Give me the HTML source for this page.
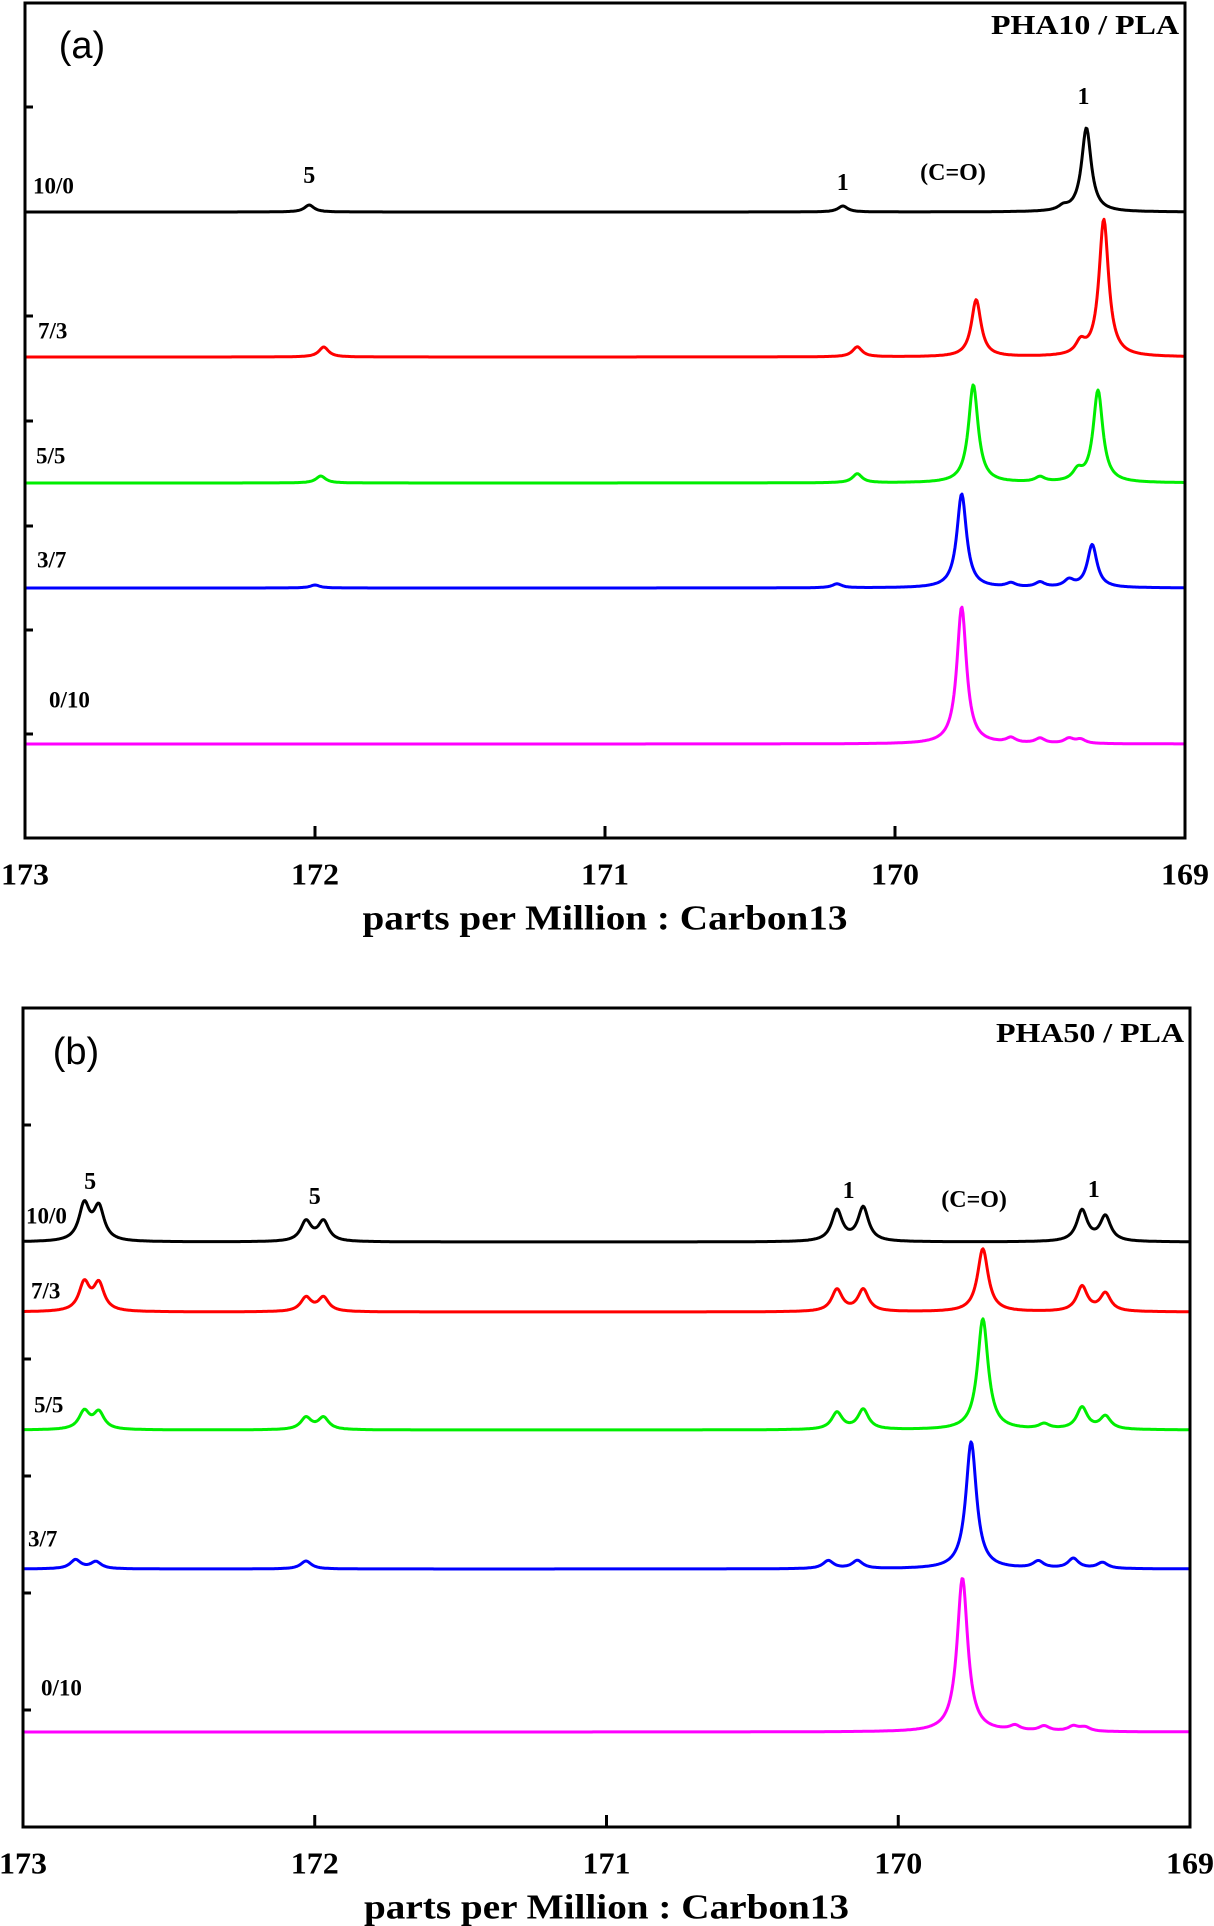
<!DOCTYPE html>
<html><head><meta charset="utf-8"><style>
body{margin:0;background:#fff;}
svg{display:block;}
text{font-family:"Liberation Serif",serif;font-weight:bold;fill:#000;}
.ab{font-family:"Liberation Sans",sans-serif;font-weight:normal;}
</style></head><body>
<svg id="fig" width="1214" height="1926" viewBox="0 0 1214 1926" xmlns="http://www.w3.org/2000/svg"></svg>
<script>
// ---------- data ----------
const xTicks = [173, 172, 171, 170, 169];
const seriesNames = ["10/0", "7/3", "5/5", "3/7", "0/10"];
const seriesColors = ["#000000", "#ff0000", "#00ee00", "#0000ff", "#ff00ff"];
// panel (a) PHA10/PLA : peak positions (ppm) and heights (px)
const aPos0 = [172.02, 170.18, 169.42, 169.34];
const aHt0  = [7, 6, 4, 84];
const aPos1 = [171.97, 170.13, 169.72, 169.36, 169.28];
const aHt1  = [10, 10, 57, 12, 137];
const aPos2 = [171.98, 170.13, 169.73, 169.5, 169.37, 169.30];
const aHt2  = [7, 9, 98, 5, 10, 92];
const aPos3 = [172.0, 170.2, 169.77, 169.6, 169.5, 169.4, 169.32];
const aHt3  = [3, 4, 94, 4, 5, 7, 43];
const aPos4 = [169.77, 169.6, 169.5, 169.4, 169.36];
const aHt4  = [137, 5, 5, 5, 4];
// panel (b) PHA50/PLA
const bPos0 = [172.79, 172.74, 172.03, 171.97, 170.21, 170.12, 169.37, 169.29];
const bHt0  = [36, 33, 20, 20, 31, 34, 31, 25];
const bPos1 = [172.79, 172.74, 172.03, 171.97, 170.21, 170.12, 169.71, 169.37, 169.29];
const bHt1  = [28, 27, 14, 14, 22, 22, 63, 25, 18];
const bPos2 = [172.79, 172.74, 172.03, 171.97, 170.21, 170.12, 169.71, 169.5, 169.37, 169.29];
const bHt2  = [18, 17, 12, 12, 17, 20, 111, 5, 22, 13];
const bPos3 = [172.82, 172.75, 172.03, 170.24, 170.14, 169.75, 169.52, 169.4, 169.3];
const bHt3  = [9, 7, 8, 8, 8, 127, 7, 10, 6];
const bPos4 = [169.78, 169.6, 169.5, 169.4, 169.36];
const bHt4  = [154, 5, 5, 5, 4];

const NS = "http://www.w3.org/2000/svg";
const svg = document.getElementById("fig");
function mk(tag, attrs, parent) {
  const e = document.createElementNS(NS, tag);
  for (const k in attrs) e.setAttribute(k, attrs[k]);
  (parent || svg).appendChild(e);
  return e;
}
function txt(str, x, y, size, anchor, parent, cls, len) {
  const t = mk("text", {x: x, y: y, "font-size": size, "text-anchor": anchor || "start", "dominant-baseline": "central"}, parent);
  if (cls) t.setAttribute("class", cls);
  if (len) { t.setAttribute("textLength", len); t.setAttribute("lengthAdjust", "spacingAndGlyphs"); }
  t.textContent = str;
  return t;
}

function panel(cfg) {
  const g = mk("g", {});
  
  
  const xs = v => cfg.left + (173 - v) / 4 * (cfg.right - cfg.left);
  cfg.series.forEach((s, i) => {
    let d = "";
    for (let px = cfg.left; px <= cfg.right; px += 1) {
      const ppm = 173 - (px - cfg.left) / (cfg.right - cfg.left) * 4;
      let y = 0;
      for (let k = 0; k < s.pos.length; k++) {
        const dx = (ppm - s.pos[k]) / cfg.gamma;
        y += s.ht[k] / (1 + dx * dx);
      }
      d += (px === cfg.left ? "M" : "L") + px.toFixed(1) + "," + (cfg.base[i] - y).toFixed(1);
    }
    const p = mk("path", {d: d, fill: "none", stroke: seriesColors[i], "stroke-width": 3, "stroke-linejoin": "round"}, g);
    
    
    const l = txt(seriesNames[i], cfg.labX[i], cfg.labY[i], 23, "start", g);
    
    
  });
  const fr = mk("rect", {x: cfg.left, y: cfg.top, width: cfg.right - cfg.left, height: cfg.bottom - cfg.top, fill: "none", stroke: "#000", "stroke-width": 3}, g);
  
  
  cfg.yTicks.forEach(y => {
    const t = mk("line", {x1: cfg.left, x2: cfg.left + 8, y1: y, y2: y, stroke: "#000", "stroke-width": 3}, g);
    
    
  });
  xTicks.forEach(v => {
    const x = xs(v);
    const t = mk("line", {x1: x, x2: x, y1: cfg.bottom, y2: cfg.bottom - 12, stroke: "#000", "stroke-width": 3}, g);
    
    
    const l = txt(String(v), x, cfg.bottom + 36, 31, "middle", g, null, 48);
    
    
  });
  const at = txt("parts per Million : Carbon13", (cfg.left + cfg.right) / 2, cfg.bottom + 80, 35, "middle", g, null, 485);
  
  
  const pl = txt(cfg.panelLabel, cfg.plX, cfg.plY, 38, "middle", g, "ab");
  
  
  const tt = txt(cfg.title, cfg.right - 6, cfg.titleY, 27, "end", g, null, 188);
  
  
  cfg.annots.forEach(a => {
    const e = txt(a[0], xs(a[1]), a[2], 24, "middle", g);
    
    
  });
}

panel({
  name: "panel-a", left: 25, right: 1185, top: 3, bottom: 838, gamma: 0.02,
  series: [{pos: aPos0, ht: aHt0}, {pos: aPos1, ht: aHt1}, {pos: aPos2, ht: aHt2}, {pos: aPos3, ht: aHt3}, {pos: aPos4, ht: aHt4}],
  base: [212, 357, 483, 588, 744],
  labX: [33, 38, 36, 37, 49], labY: [186, 331, 456, 560, 700],
  yTicks: [107, 316, 421, 526, 630, 734],
  panelLabel: "(a)", plX: 82, plY: 46, title: "PHA10 / PLA", titleY: 25,
  annots: [["5", 172.02, 176], ["1", 170.18, 183], ["(C=O)", 169.8, 173], ["1", 169.35, 97]]
});
panel({
  name: "panel-b", left: 23, right: 1190, top: 1008, bottom: 1827, gamma: 0.022,
  series: [{pos: bPos0, ht: bHt0}, {pos: bPos1, ht: bHt1}, {pos: bPos2, ht: bHt2}, {pos: bPos3, ht: bHt3}, {pos: bPos4, ht: bHt4}],
  base: [1242, 1312, 1430, 1569, 1732],
  labX: [26, 31, 34, 28, 41], labY: [1216, 1291, 1405, 1539, 1688],
  yTicks: [1125, 1359, 1476, 1593, 1710],
  panelLabel: "(b)", plX: 76, plY: 1052, title: "PHA50 / PLA", titleY: 1033,
  annots: [["5", 172.77, 1182], ["5", 172.0, 1197], ["1", 170.17, 1191], ["(C=O)", 169.74, 1200], ["1", 169.33, 1190]]
});
</script>
</body></html>
